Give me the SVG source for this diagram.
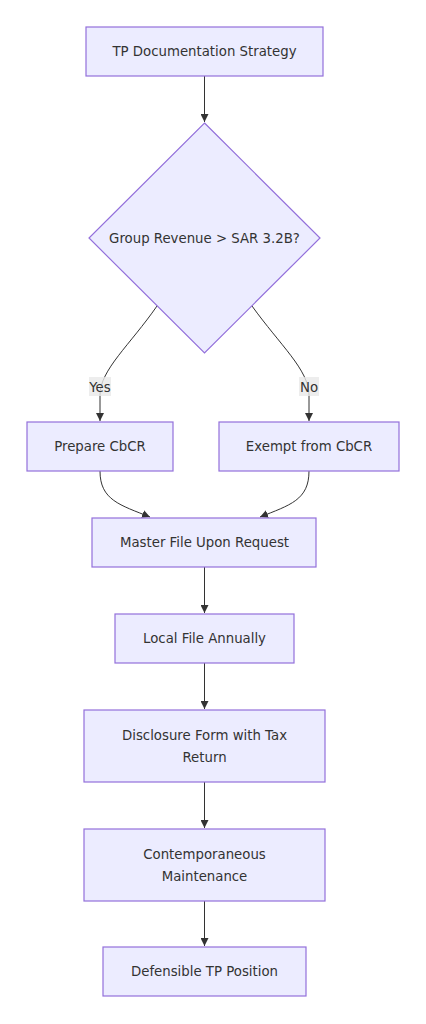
<svg xmlns="http://www.w3.org/2000/svg" width="426" height="1024" viewBox="0 0 426 1024">
<style>
.n{fill:#ECECFF;stroke:#9370DB;stroke-width:1.2}
.t{font-family:"DejaVu Sans",Verdana,sans-serif;font-size:13.3px;fill:#333;text-anchor:middle;dominant-baseline:central}
.e{fill:none;stroke:#333;stroke-width:1}
.lb{fill:#e8e8e8;opacity:0.8}
</style>
<defs>
<marker id="a" viewBox="0 0 10 10" refX="10" refY="5" markerWidth="8" markerHeight="8" markerUnits="userSpaceOnUse" orient="auto">
<path d="M0,0L10,5L0,10z" fill="#333"/>
</marker>
</defs>
<rect width="426" height="1024" fill="#fff"/>
<g id="edges">
<path class="e" d="M204.5,76V122" marker-end="url(#a)"/>
<path class="e" d="M157,306C130,345 100,370 100,395V421" marker-end="url(#a)"/>
<path class="e" d="M252,306C280,345 309,370 309,395V421" marker-end="url(#a)"/>
<path class="e" d="M100,471C100,500 120,505 150,517" marker-end="url(#a)"/>
<path class="e" d="M309,471C309,500 290,505 260,517" marker-end="url(#a)"/>
<path class="e" d="M204.5,567V613" marker-end="url(#a)"/>
<path class="e" d="M204.5,663V709" marker-end="url(#a)"/>
<path class="e" d="M204.5,782V828" marker-end="url(#a)"/>
<path class="e" d="M204.5,901V946" marker-end="url(#a)"/>
<rect class="lb" x="89" y="377" width="22" height="19"/>
<text class="t" x="100" y="387">Yes</text>
<rect class="lb" x="299" y="377" width="20" height="19"/>
<text class="t" x="309" y="387">No</text>
</g>
<g id="n1"><rect class="n" x="86" y="27" width="237" height="49"/><text class="t" x="204.5" y="51.5">TP Documentation Strategy</text></g>
<g id="n2"><polygon class="n" points="204.5,123 320,238 204.5,353 89,238"/><text class="t" x="204.5" y="238">Group Revenue &gt; SAR 3.2B?</text></g>
<g id="n3"><rect class="n" x="27" y="422" width="146" height="49"/><text class="t" x="100" y="446.5">Prepare CbCR</text></g>
<g id="n4"><rect class="n" x="219" y="422" width="180" height="49"/><text class="t" x="309" y="446.5">Exempt from CbCR</text></g>
<g id="n5"><rect class="n" x="92" y="518" width="224" height="49"/><text class="t" x="204.5" y="542.5">Master File Upon Request</text></g>
<g id="n6"><rect class="n" x="115" y="614" width="179" height="49"/><text class="t" x="204.5" y="638.5">Local File Annually</text></g>
<g id="n7"><rect class="n" x="84" y="710" width="241" height="72"/><text class="t" x="204.5" y="735">Disclosure Form with Tax</text><text class="t" x="204.5" y="757">Return</text></g>
<g id="n8"><rect class="n" x="84" y="829" width="241" height="72"/><text class="t" x="204.5" y="854">Contemporaneous</text><text class="t" x="204.5" y="876">Maintenance</text></g>
<g id="n9"><rect class="n" x="103" y="947" width="203" height="49"/><text class="t" x="204.5" y="971.5">Defensible TP Position</text></g>
</svg>
